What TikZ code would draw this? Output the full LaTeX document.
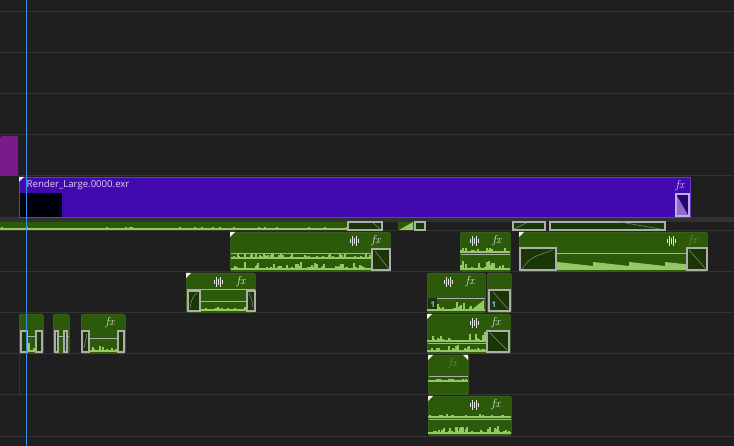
\documentclass[tikz,border=0pt]{standalone}
\usepackage{fontspec}
\setsansfont{Open Sans}
\usetikzlibrary{calc}

\definecolor{panel}{HTML}{1F1F1F}
\definecolor{rowsep}{HTML}{333333}
\definecolor{trackband}{HTML}{313131}
\definecolor{playhead}{HTML}{3A8FEA}
\definecolor{vidclip}{HTML}{4309B0}
\definecolor{vidtext}{HTML}{DCD6F0}
\definecolor{magclip}{HTML}{7B1A8C}
\definecolor{audclip}{HTML}{2C590A}
\definecolor{audedge}{HTML}{3F6E1E}
\definecolor{wavelight}{HTML}{93C863}
\definecolor{trdark}{HTML}{1B3606}
\definecolor{rubber}{HTML}{ADADAD}

% random spikes: x from #1 to #2, base y #3, max height #4
\newcommand{\spikes}[4]{%
  \foreach \i in {#1,...,#2}{
    \pgfmathsetmacro{\h}{1.5+(#4-1.5)*rnd^5}
    \draw[wavelight, line width=1.05pt] (\i,#3) -- ++(0,-\h);
  }}
% one audio clip as a node
\newcommand{\aclip}[5]{\node[clipg, minimum width={#4-#2}, minimum height={#5-#3}] (#1) at (#2,#3) {};}

\begin{document}
\begin{tikzpicture}[x=1pt, y=-1pt,
  clipg/.style = {draw=audedge, fill=audclip, rounded corners=1.5pt,
    inner sep=0pt, anchor=north west, line width=0.6pt},
  trbox/.style = {draw=rubber, line width=1.4pt, fill=trdark},
  trline/.style = {rubber!80!black, line width=0.5pt},
  band/.style = {rubber, line width=1pt},
  fxlab/.style = {font=\itshape\fontsize{11.5}{11}\selectfont, text=white!80!gray, inner sep=0pt},
  fxdim/.style = {fxlab, text=audedge!60!white!60!audclip},
  cornermark/.style = {fill=white!90!gray},
  aud/.pic = {\foreach \dx/\h in {-4/2,-2/5,0/3,2/5,4/2}
    \draw[white!80!gray, line width=0.8pt] (\dx,-\h) -- (\dx,\h);}]
\useasboundingbox (0,0) rectangle (734,446);
\pgfmathsetseed{11}

% panel and track rows
\fill[panel] (0,0) rectangle (734,446);
\foreach \y in {12,53,94,135,176,231,272,313,354,395,436}
  \draw[rowsep, line width=1pt] (0,\y) -- (734,\y);
\fill[trackband] (0,217) rectangle (734,222);
\draw[rowsep] (19,354) -- (19,396);

% video tracks
\node[fill=magclip, rounded corners=1.5pt, inner sep=0pt, anchor=north west,
  minimum width=18, minimum height=40] (mag) at (0,136) {};
\node[fill=vidclip, draw=vidclip!80!white, line width=0.6pt, inner sep=0pt, anchor=north west,
  minimum width=671, minimum height=40] (render) at (19,177) {};
\fill[black!96!blue] (20,193) rectangle (62,217);
\node[anchor=west, inner sep=0pt, text=vidtext, font=\sffamily\fontsize{9.6}{11}\selectfont]
  (rname) at (26.5,185.5) {Render\_Large.0000.exr};
\node[fxlab, text=vidtext] (rfx) at (680,186) {fx};
\draw[fill=vidclip!60!black, draw=vidtext!80!vidclip, line width=1.2pt] (676,194) rectangle (689,216);
\fill[vidclip!60!white] (677,196) -- (677,215) -- (688,215) -- cycle;
\fill[cornermark] (19,177) -- (24,177) -- (19,182) -- cycle;

% cut-off audio track under the band
\fill[audclip] (0,222) rectangle (382,230);
\spikes{1}{347}{230}{3}
\draw[trbox] (348,222) rectangle (382,230);
\draw[trline] (372,222) -- (380,229);
\fill[audclip] (398,222) rectangle (425,230);
\fill[wavelight] (399,230) -- (413,222) -- (413,230) -- cycle;
\draw[trbox] (415,222) rectangle (425,230);
\draw[trbox] (513,222) rectangle (545,230);
\draw[trline] (514,229) -- (526,223);
\draw[trbox] (550,222) rectangle (665,230);
\draw[trline] (620,222) -- (660,229);

% audio row 1
\aclip{cA}{230}{232}{390}{271}
\spikes{232}{370}{259}{6}
\spikes{232}{370}{270}{8}
\draw[band] (231,254) -- (390,254);
\draw[trbox] (372,249) rectangle (390,270);
\draw[trline] (375,251) -- (389,269);
\pic at (354,241) {aud};
\node[fxlab] (fxA) at (376,241) {fx};
\fill[cornermark] (230,232) -- (235,232) -- (230,237) -- cycle;

\aclip{cB}{460}{232}{510}{271}
\spikes{461}{509}{253}{7}
\spikes{461}{509}{270}{9}
\draw[band] (461,255) -- (510,255);
\pic at (474,241) {aud};
\node[fxlab] (fxB) at (497,241) {fx};

\aclip{cC}{519}{232}{707}{271}
\foreach \s in {557,593,629,665}
  \fill[wavelight] (\s,270) -- (\s,262) -- (\s+36,266) -- (\s+36,270) -- cycle;
\draw[band] (520,254) -- (707,254);
\draw[trbox] (520,248) rectangle (556,270);
\draw[trline] (522,269) .. controls (530,258) .. (553,250);
\draw[trbox] (687,248) rectangle (707,270);
\draw[trline] (689,250) -- (705,268);
\pic at (671,241) {aud};
\node[fxdim] (fxC) at (693,241) {fx};
\fill[cornermark] (519,232) -- (524,232) -- (519,237) -- cycle;

% audio row 2
\aclip{cD}{186}{273}{255}{312}
\spikes{200}{246}{311}{4}
\draw[band] (187,290) -- (255,290);
\draw[wavelight, line width=0.8pt] (187,301) -- (255,301);
\draw[trbox] (188,291) rectangle (200,311);
\draw[trline] (190,308) .. controls (192,298) .. (197,293);
\draw[trbox] (247,291) rectangle (255,311);
\draw[trline] (249,293) .. controls (252,300) .. (253,308);
\pic at (218,282) {aud};
\node[fxlab] (fxD) at (241,282) {fx};
\fill[cornermark] (186,273) -- (191,273) -- (186,278) -- cycle;

\aclip{cE}{427}{273}{485}{312}
\spikes{428}{484}{311}{9}
\fill[wavelight] (470,311) -- (484,300) -- (484,311) -- cycle;
\draw[band] (428,299) -- (485,299);
\fill[trdark] (428,298) rectangle (437,309);
\node[text=playhead!60!white, font=\sffamily\bfseries\fontsize{8}{8}\selectfont, inner sep=0pt] (nE) at (433,305) {1};
\pic at (448,282) {aud};
\node[fxlab] (fxE) at (470,282) {fx};

\aclip{cF}{487}{273}{511}{312}
\draw[trbox] (489,290) rectangle (510,311);
\draw[trline] (493,292) -- (508,309);
\node[text=playhead!60!white, font=\sffamily\bfseries\fontsize{8}{8}\selectfont, inner sep=0pt] (nF) at (494,305) {1};

% audio row 3
\aclip{gA}{19}{314}{43}{353}
\spikes{27}{35}{352}{12}
\draw[band] (20,337) -- (43,337);
\draw[trbox] (21,331) rectangle (27,352);
\draw[trbox] (36,331) rectangle (42,352);
\aclip{gB}{53}{314}{69}{353}
\draw[band] (54,337) -- (69,337);
\draw[trbox] (55,331) rectangle (58,352);
\draw[trbox] (64,331) rectangle (67,352);
\aclip{gC}{81}{314}{125}{353}
\spikes{91}{116}{352}{12}
\draw[band] (82,339) -- (125,339);
\draw[trbox] (82,331) rectangle (89,352);
\draw[trline] (84,348) -- (87,334);
\draw[trbox] (118,331) rectangle (124,352);
\node[fxlab] (fxG) at (110,323) {fx};

\aclip{cH}{427}{314}{510}{353}
\spikes{428}{485}{342}{10}
\spikes{428}{485}{352}{7}
\draw[band] (428,344) -- (510,344);
\draw[trbox] (487,331) rectangle (509,352);
\draw[trline] (490,333) -- (507,350);
\pic at (474,323) {aud};
\node[fxlab] (fxH) at (496,323) {fx};
\fill[cornermark] (427,314) -- (432,314) -- (427,319) -- cycle;

% audio row 4
\aclip{cI}{428}{355}{468}{394}
\spikes{429}{467}{382}{4}
\draw[band] (429,377) -- (468,377);
\node[fxdim] (fxI) at (453,364) {fx};
\fill[cornermark] (428,355) -- (433,355) -- (428,360) -- cycle;
\fill[cornermark] (468,355) -- (463,355) -- (468,360) -- cycle;

% audio row 5
\aclip{cJ}{428}{396}{511}{435}
\spikes{429}{510}{418}{4}
\spikes{429}{510}{434}{8}
\draw[band] (429,419) -- (511,419);
\pic at (474,405) {aud};
\node[fxlab] (fxJ) at (496,405) {fx};
\fill[cornermark] (428,396) -- (433,396) -- (428,401) -- cycle;

% playhead
\draw[playhead, line width=1pt] (26,0) -- (26,446);
\end{tikzpicture}
\end{document}
